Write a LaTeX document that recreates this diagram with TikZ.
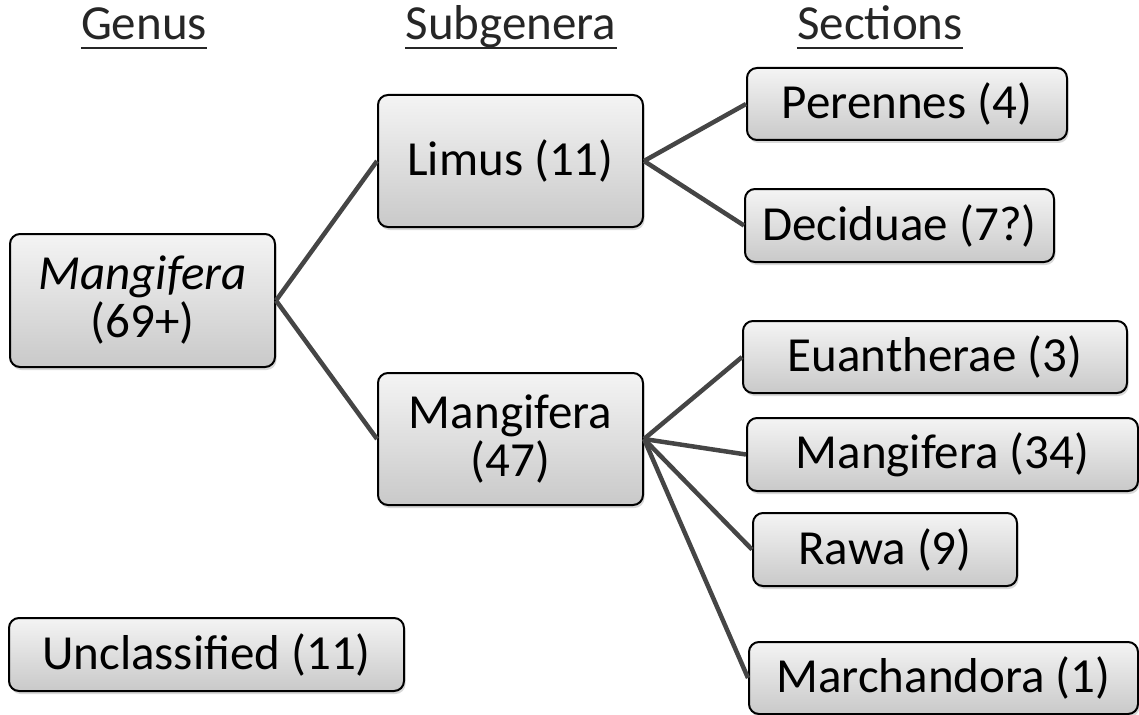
\documentclass[tikz,border=0pt]{standalone}
\usepackage{fontspec}
\setmainfont{Carlito}
\usetikzlibrary{shadows}
\definecolor{edgegray}{HTML}{454545}
\definecolor{boxtop}{HTML}{F4F4F4}
\definecolor{boxbot}{HTML}{C9C9C9}
\definecolor{headtext}{HTML}{262626}
\begin{document}
\begin{tikzpicture}[x=1pt,y=-1pt,
  every node/.style={font=\fontsize{49}{48}\selectfont},
  box/.style={draw=black,line width=2pt,rounded corners=10pt,
    top color=boxtop,bottom color=boxbot,inner sep=0pt,align=center,
    drop shadow={shadow xshift=1.5pt,shadow yshift=-3pt,opacity=0.3}},
  head/.style={inner sep=0pt,text=headtext,anchor=base},
  uline/.style={draw=headtext,line width=2.2pt},
  link/.style={draw=edgegray,line width=4.5pt}]
\useasboundingbox (0,0) rectangle (1139,714);
% headings
\node[head] (hgenus) at (144,40) {Genus};
\node[head] (hsub) at (511,40) {Subgenera};
\node[head] (hsec) at (880,40) {Sections};
\foreach \h in {hgenus,hsub,hsec}{
  \draw[uline] ([yshift=-8pt]\h.base west) -- ([yshift=-8pt]\h.base east);
}
% edges first (behind boxes)
\coordinate (gE) at (275,300.5);
\coordinate (lW) at (378,161);
\coordinate (lE) at (643,161);
\coordinate (sW) at (378,439);
\coordinate (sE) at (643,439);
% boxes
\node[box,minimum width=265,minimum height=133] (genus) at (142.5,300.5) {\textit{Mangifera}\\(69+)};
\node[box,minimum width=265,minimum height=132] (limus) at (510.5,161) {Limus (11)};
\node[box,minimum width=265,minimum height=132] (subg) at (510.5,439) {Mangifera\\(47)};
\node[box,minimum width=320,minimum height=72] (peren) at (907,104) {Perennes (4)};
\node[box,minimum width=309,minimum height=73] (decid) at (899.5,225.5) {Deciduae (7?)};
\node[box,minimum width=384,minimum height=72] (euan) at (935,357) {Euantherae (3)};
\node[box,minimum width=391,minimum height=73] (mang) at (942.5,454.5) {Mangifera (34)};
\node[box,minimum width=264,minimum height=73] (rawa) at (885,549.5) {Rawa (9)};
\node[box,minimum width=389,minimum height=72] (march) at (943.5,678) {Marchandora (1)};
\node[box,minimum width=395,minimum height=73] (uncl) at (206.5,654.5) {Unclassified (11)};
% connectors
\draw[link] (genus.east) -- (limus.west);
\draw[link] (genus.east) -- (subg.west);
\draw[link] (limus.east) -- (peren.west);
\draw[link] (limus.east) -- (decid.west);
\draw[link] (subg.east) -- (euan.west);
\draw[link] (subg.east) -- (mang.west);
\draw[link] (subg.east) -- (rawa.west);
\draw[link] (subg.east) -- (march.west);
\end{tikzpicture}
\end{document}
